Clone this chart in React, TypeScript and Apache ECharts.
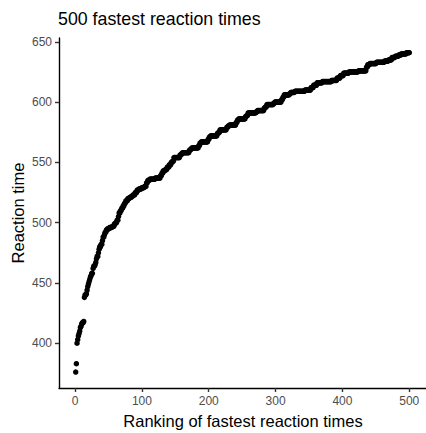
import React, { useEffect, useRef } from 'react';
import * as echarts from 'echarts';

// Sorted reaction times, stored as runs of tied values: rtValues[i] repeats rtCounts[i] times.
const rtValues = [
  376, 383, 400, 403, 406, 408, 410, 413, 414, 416, 417, 418,
  438, 440, 441, 444, 447, 449, 451, 453, 455, 456, 458, 462, 464, 465, 467, 470,
  472, 475, 478, 480, 482, 485, 488, 490, 492, 494, 495, 496, 497, 499, 500, 502,
  505, 508, 510, 512, 514, 516, 518, 520, 521, 522, 523, 525, 527, 528, 529, 530,
  533, 535, 536, 537, 539, 541, 543, 544, 546, 548, 550, 551,
  554, 556, 557, 558, 560, 561, 562, 564, 566, 567, 569, 571, 572, 574, 575, 577,
  579, 580, 581, 583, 585, 586, 588, 589, 591, 592, 593, 595, 596, 598, 599, 600,
  602, 604, 606, 607, 608, 609, 610, 612, 614, 616, 617, 618, 620, 622, 624, 625,
  626, 629, 631, 632, 633, 634, 635, 637, 638, 639, 640, 641,
];
const rtCounts = [
  1, 1, 1, 1, 1, 1, 1, 1, 1, 1, 2, 1,
  1, 2, 1, 1, 1, 1, 1, 1, 1, 1, 2, 1, 2, 1, 1, 1,
  2, 1, 1, 2, 2, 1, 2, 1, 2, 2, 3, 4, 3, 2, 2, 2,
  1, 2, 2, 2, 2, 2, 3, 3, 3, 2, 3, 3, 3, 4, 4, 3,
  2, 3, 8, 8, 2, 2, 3, 3, 3, 3, 2, 2,
  9, 2, 2, 10, 2, 2, 10, 2, 2, 10, 2, 2, 10, 2, 2, 10,
  2, 2, 10, 2, 2, 10, 2, 2, 12, 2, 10, 2, 2, 10, 2, 10,
  2, 2, 8, 2, 6, 15, 9, 4, 5, 8, 14, 8, 5, 5, 8, 14,
  12, 2, 3, 10, 12, 6, 5, 5, 5, 4, 8, 5,
];

const xTicks = [0, 100, 200, 300, 400, 500];
const yTicks = [400, 450, 500, 550, 600, 650];

const chartTitle = '500 fastest reaction times';
const xTitle = 'Ranking of fastest reaction times';
const yTitle = 'Reaction time';

const FONT = "'Liberation Sans', Arial, Helvetica, sans-serif";

function buildPoints(): number[][] {
  const pts: number[][] = [];
  let rank = 1;
  rtValues.forEach((v, i) => {
    for (let k = 0; k < rtCounts[i]; k++) pts.push([rank++, v]);
  });
  return pts;
}

const axisCommon = {
  type: 'value' as const,
  splitLine: { show: false },
  axisLine: { show: true, onZero: false, lineStyle: { color: '#000000', width: 1.4 } },
};

export default function App() {
  const ref = useRef<HTMLDivElement>(null);

  useEffect(() => {
    if (!ref.current) return;
    const chart = echarts.init(ref.current, null, { renderer: 'svg' });
    chart.setOption({
      animation: false,
      backgroundColor: '#ffffff',
      grid: { left: 59, top: 38, width: 368, height: 350, containLabel: false },
      xAxis: {
        ...axisCommon,
        min: -24,
        max: 525,
        axisTick: { show: true, length: 4, customValues: xTicks, lineStyle: { color: '#333333', width: 1.4 } },
        axisLabel: { customValues: xTicks, color: '#4D4D4D', fontSize: 12, margin: 7, fontFamily: FONT },
      },
      yAxis: {
        ...axisCommon,
        min: 362.8,
        max: 653.2,
        axisTick: { show: true, length: 4, customValues: yTicks, lineStyle: { color: '#333333', width: 1.4 } },
        axisLabel: { customValues: yTicks, color: '#4D4D4D', fontSize: 12, margin: 7, fontFamily: FONT },
      },
      series: [
        {
          type: 'scatter',
          data: buildPoints(),
          symbol: 'circle',
          symbolSize: 5.5,
          itemStyle: { color: '#000000', opacity: 1 },
          emphasis: { disabled: true },
        },
      ],
      graphic: [
        {
          type: 'text',
          x: 58,
          y: 19,
          style: { text: chartTitle, font: `17.8px ${FONT}`, fill: '#000000', textAlign: 'left', textVerticalAlign: 'middle' },
        },
        {
          type: 'text',
          x: 243,
          y: 421,
          style: { text: xTitle, font: `16.5px ${FONT}`, fill: '#000000', textAlign: 'center', textVerticalAlign: 'middle' },
        },
        {
          type: 'text',
          x: 18,
          y: 213,
          rotation: Math.PI / 2,
          style: { text: yTitle, font: `16.5px ${FONT}`, fill: '#000000', textAlign: 'center', textVerticalAlign: 'middle' },
        },
      ],
    });
    return () => chart.dispose();
  }, []);

  return (
    <div
      ref={ref}
      style={{ position: 'absolute', left: 0, top: 0, width: 426, height: 433 }}
    />
  );
}
